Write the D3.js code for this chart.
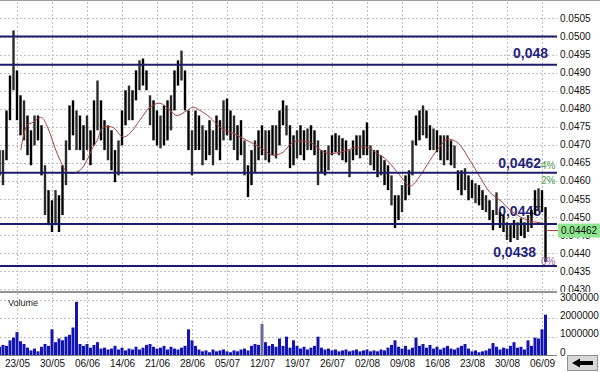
<!DOCTYPE html>
<html>
<head>
<meta charset="utf-8">
<script src="https://cdn.jsdelivr.net/npm/d3@7"></script>
<style>
  body { margin: 0; background: #fff; }
  svg { display: block; }
  text { font-family: "Liberation Sans", Arial, sans-serif; }
</style>
</head>
<body>
<div class="chart"></div>
<script>
// price bars (one bar = half a trading day)
var highs = [0.04685,0.04685,0.04795,0.04892,0.05017,0.04906,0.04837,0.04823,0.04781,0.04740,
  0.04781,0.04781,0.04754,0.04643,0.04574,0.04546,0.04574,0.04560,0.04643,0.04712,
  0.04809,0.04823,0.04795,0.04781,0.04754,0.04781,0.04740,0.04823,0.04878,0.04823,
  0.04768,0.04754,0.04740,0.04685,0.04712,0.04795,0.04851,0.04864,0.04851,0.04906,
  0.04934,0.04939,0.04906,0.04837,0.04823,0.04795,0.04781,0.04809,0.04823,0.04837,
  0.04906,0.04934,0.04961,0.04906,0.04795,0.04740,0.04795,0.04781,0.04754,0.04740,
  0.04768,0.04740,0.04781,0.04768,0.04823,0.04828,0.04795,0.04781,0.04754,0.04768,
  0.04712,0.04643,0.04685,0.04712,0.04740,0.04754,0.04740,0.04740,0.04754,0.04754,
  0.04795,0.04823,0.04809,0.04754,0.04726,0.04740,0.04754,0.04740,0.04745,0.04754,
  0.04740,0.04712,0.04685,0.04685,0.04698,0.04726,0.04732,0.04726,0.04718,0.04712,
  0.04685,0.04712,0.04726,0.04726,0.04740,0.04762,0.04698,0.04685,0.04685,0.04671,
  0.04657,0.04643,0.04615,0.04560,0.04560,0.04588,0.04615,0.04629,0.04712,0.04781,
  0.04795,0.04809,0.04795,0.04754,0.04745,0.04740,0.04726,0.04726,0.04726,0.04712,
  0.04698,0.04629,0.04629,0.04635,0.04615,0.04602,0.04593,0.04588,0.04574,0.04560,
  0.04546,0.04519,0.04568,0.04513,0.04505,0.04485,0.04477,0.04491,0.04485,0.04496,
  0.04485,0.04505,0.04519,0.04574,0.04579,0.04574,0.04527];

var lows = [0.04615,0.04588,0.04657,0.04768,0.04851,0.04768,0.04726,0.04712,0.04671,0.04643,
  0.04698,0.04712,0.04615,0.04505,0.04477,0.04458,0.04477,0.04458,0.04505,0.04588,
  0.04685,0.04726,0.04685,0.04685,0.04657,0.04685,0.04643,0.04698,0.04740,0.04712,
  0.04685,0.04657,0.04629,0.04596,0.04615,0.04698,0.04754,0.04768,0.04768,0.04823,
  0.04851,0.04864,0.04851,0.04754,0.04712,0.04698,0.04690,0.04698,0.04712,0.04740,
  0.04795,0.04864,0.04878,0.04795,0.04685,0.04615,0.04685,0.04685,0.04643,0.04657,
  0.04671,0.04643,0.04685,0.04657,0.04712,0.04726,0.04712,0.04685,0.04657,0.04671,
  0.04615,0.04555,0.04588,0.04624,0.04657,0.04671,0.04657,0.04651,0.04671,0.04662,
  0.04698,0.04754,0.04726,0.04635,0.04643,0.04662,0.04671,0.04657,0.04685,0.04685,
  0.04671,0.04588,0.04624,0.04615,0.04629,0.04671,0.04679,0.04671,0.04657,0.04651,
  0.04610,0.04657,0.04671,0.04662,0.04671,0.04671,0.04643,0.04629,0.04610,0.04615,
  0.04588,0.04574,0.04532,0.04469,0.04491,0.04513,0.04546,0.04560,0.04615,0.04698,
  0.04712,0.04726,0.04718,0.04685,0.04685,0.04679,0.04657,0.04643,0.04657,0.04643,
  0.04635,0.04574,0.04560,0.04574,0.04546,0.04552,0.04538,0.04532,0.04519,0.04513,
  0.04491,0.04463,0.04505,0.04469,0.04458,0.04436,0.04430,0.04441,0.04436,0.04447,
  0.04441,0.04458,0.04469,0.04505,0.04519,0.04513,0.04375];

var volumes = [450000,550000,500000,800000,950000,1250000,750000,600000,400000,250000,
  350000,200000,450000,600000,500000,1400000,700000,900000,800000,1000000,
  1100000,1500000,2900000,600000,500000,600000,400000,550000,700000,350000,
  400000,300000,350000,500000,300000,400000,250000,350000,300000,450000,
  300000,400000,550000,600000,450000,350000,400000,500000,300000,450000,
  350000,300000,400000,500000,1400000,800000,500000,300000,200000,250000,
  150000,300000,200000,250000,300000,200000,150000,250000,200000,300000,
  350000,250000,500000,600000,550000,1700000,700000,500000,600000,450000,
  900000,500000,1000000,400000,800000,500000,350000,450000,300000,400000,
  500000,1000000,400000,300000,350000,250000,300000,200000,250000,300000,
  200000,250000,300000,200000,250000,300000,200000,250000,200000,300000,
  250000,400000,550000,800000,450000,350000,500000,300000,400000,950000,
  500000,600000,400000,550000,350000,450000,300000,400000,500000,350000,
  300000,400000,500000,600000,350000,200000,250000,150000,200000,250000,
  350000,650000,450000,300000,400000,350000,500000,700000,400000,450000,
  300000,800000,500000,950000,900000,1400000,2200000];

// moving average, read at bar positions
var maBar = [6.1,7.9,9.6,11.6,12.4,14.4,15.9,17.3,19.3,21,23,25,26.7,27.9,29.6,32.4,35.3,37.3,40.1,43,
  45.9,48.7,50.7,53.6,55.3,57.3,60.1,63,66.7,70.7,74.4,78.1,81,83.9,88.7,90.7,93.6,97.3,101,105,
  107.9,110.7,114.4,117.3,120.1,123,125.9,127.9,130.7,134.4,137.3,140.1,143,145.9,150.7,155.3];
var maValue = [0.04685,0.04754,0.04762,0.04776,0.04773,0.04732,0.04690,0.04657,0.04624,0.04621,
  0.04629,0.04657,0.04693,0.04712,0.04748,0.04748,0.04721,0.04732,0.04768,0.04804,
  0.04815,0.04795,0.04781,0.04795,0.04804,0.04795,0.04776,0.04748,0.04732,0.04712,
  0.04693,0.04671,0.04679,0.04707,0.04707,0.04693,0.04676,0.04679,0.04690,0.04693,
  0.04676,0.04657,0.04615,0.04585,0.04613,0.04657,0.04696,0.04715,0.04707,0.04657,
  0.04610,0.04568,0.04546,0.04519,0.04491,0.04483];

var levels = [0.0500, 0.04922, 0.04622, 0.04480, 0.04364];
var levelText = ["0,048", "0,0462", "0,0445", "0,0438"];
var levelTextAt = [0.04922, 0.04622, 0.04480, 0.04364];
var pctText = ["4%", "2%", "0%"];
var pctAt = [0.04643, 0.04602, 0.04375];

var dateLabels = ["23/05","30/05","06/06","14/06","21/06","28/06","05/07","12/07",
  "19/07","26/07","02/08","09/08","16/08","23/08","30/08","06/09"];
var dateBars = d3.range(5, 156, 10);
var priceTicks = d3.range(0, 16).map(function(i) { return 0.0430 + i * 0.0005; });
var volTicks = [0, 1000000, 2000000, 3000000];
var lastPrice = 0.04462;

var width = 600, height = 372,
    plot_right = 557,
    price_top = 2, price_bottom = 291,
    vol_top = 293, vol_bottom = 355;

var x = d3.scaleLinear().domain([0, 156]).range([-0.5, 545.5]);
var y = d3.scaleLinear().domain([0.0430, 0.0500]).range([289, 36.5]);
var yv = d3.scaleLinear().domain([0, 3000000]).range([355, 300]);

var svg = d3.select(".chart").append("svg")
    .attr("width", width).attr("height", height);

var defs = svg.append("defs");
defs.append("clipPath").attr("id", "pclip")
  .append("rect").attr("x", 0).attr("y", price_top).attr("width", plot_right).attr("height", price_bottom - price_top);
defs.append("clipPath").attr("id", "aclip")
  .append("rect").attr("x", 0).attr("y", 0).attr("width", width).attr("height", 292);

// grid
var grid = svg.append("g").attr("stroke", "#bdbdbd").attr("stroke-dasharray", "2,2").attr("stroke-width", 1);
grid.selectAll(".hp").data(priceTicks).enter().append("line")
  .attr("x1", 0).attr("x2", plot_right)
  .attr("y1", function(d) { return Math.round(y(d)) + 0.5; })
  .attr("y2", function(d) { return Math.round(y(d)) + 0.5; });
grid.selectAll(".hv").data(volTicks.slice(1)).enter().append("line")
  .attr("x1", 0).attr("x2", plot_right)
  .attr("y1", function(d) { return Math.round(yv(d)) + 0.5; })
  .attr("y2", function(d) { return Math.round(yv(d)) + 0.5; });
grid.selectAll(".v1").data(dateBars).enter().append("line")
  .attr("x1", function(d) { return Math.round(x(d)) + 0.5; })
  .attr("x2", function(d) { return Math.round(x(d)) + 0.5; })
  .attr("y1", price_top).attr("y2", price_bottom);
grid.selectAll(".v2").data(dateBars).enter().append("line")
  .attr("x1", function(d) { return Math.round(x(d)) + 0.5; })
  .attr("x2", function(d) { return Math.round(x(d)) + 0.5; })
  .attr("y1", vol_top).attr("y2", vol_bottom);

// frame lines
svg.append("line").attr("x1", 0).attr("x2", width).attr("y1", 0.5).attr("y2", 0.5)
  .attr("stroke", "#a0a0a0");
svg.append("line").attr("x1", 0).attr("x2", plot_right).attr("y1", 292).attr("y2", 292)
  .attr("stroke", "#707070").attr("stroke-width", 1.5);
svg.append("line").attr("x1", 0).attr("x2", plot_right).attr("y1", vol_bottom + 0.5).attr("y2", vol_bottom + 0.5)
  .attr("stroke", "#808080");

var price = svg.append("g").attr("clip-path", "url(#pclip)");

// level labels (under the bars)
price.selectAll(".lt").data(levelText).enter().append("text")
  .attr("x", function(d, i) { return [548, 541, 541, 536][i]; })
  .attr("y", function(d, i) { return y(levelTextAt[i]) - [6.5, 4.5, 8, 8.5][i]; })
  .attr("text-anchor", "end")
  .attr("font-family", "'Liberation Mono', 'DejaVu Sans Mono', monospace")
  .attr("font-weight", "bold").attr("font-size", 14)
  .attr("fill", "#23237e")
  .text(function(d) { return d; });

// bars
price.selectAll(".bar").data(highs).enter().append("line")
  .attr("x1", function(d, i) { return x(i); })
  .attr("x2", function(d, i) { return x(i); })
  .attr("y1", function(d) { return y(d); })
  .attr("y2", function(d, i) { return y(lows[i]); })
  .attr("stroke", function(d, i) { return i % 3 == 1 ? "#2a2a2a" : "#000"; })
  .attr("stroke-width", 2.4);

// moving average
var ma_line = d3.line()
  .x(function(d) { return x(d); })
  .y(function(d, i) { return y(maValue[i]); })
  .curve(d3.curveCatmullRom);
price.append("path").datum(maBar)
  .attr("d", ma_line)
  .attr("fill", "none").attr("stroke", "#a8403a").attr("stroke-width", 1);

// horizontal levels
price.selectAll(".lvl").data(levels).enter().append("line")
  .attr("x1", 0).attr("x2", plot_right)
  .attr("y1", function(d) { return y(d); })
  .attr("y2", function(d) { return y(d); })
  .attr("stroke", "#1c1c6c").attr("stroke-width", 2);

price.selectAll(".pt").data(pctText).enter().append("text")
  .attr("x", 541)
  .attr("y", function(d, i) { return y(pctAt[i]) + 3.5; })
  .attr("font-size", 10)
  .attr("fill", function(d, i) { return i == 2 ? "#9a5aa8" : "#4f9a4f"; })
  .text(function(d) { return d; });

// last price marker
svg.append("line")
  .attr("x1", x(156)).attr("x2", 558)
  .attr("y1", y(lastPrice)).attr("y2", y(lastPrice))
  .attr("stroke", "#a8403a");

// volume bars
svg.append("g").selectAll("rect").data(volumes).enter().append("rect")
  .attr("x", function(d, i) { return x(i) - 1.5; })
  .attr("width", 3)
  .attr("y", function(d) { return yv(d); })
  .attr("height", function(d) { return yv(0) - yv(d); })
  .attr("fill", function(d, i) { return i == 75 ? "#6a6a9a" : "#1414b4"; });

svg.append("text").attr("x", 8).attr("y", 306).attr("font-size", 9).attr("fill", "#222")
  .text("Volume");

// axes
var price_axis = svg.append("g").attr("transform", "translate(557,0)")
  .attr("clip-path", "url(#aclip)")
  .call(d3.axisRight(y).tickValues(priceTicks).tickSize(0).tickPadding(3)
    .tickFormat(d3.format(".4f")));
var vol_axis = svg.append("g").attr("transform", "translate(557,0)")
  .call(d3.axisRight(yv).tickValues(volTicks).tickSize(0).tickPadding(3)
    .tickFormat(d3.format("d")));
vol_axis.selectAll("text").attr("dy", "0.02em");
var date_axis = svg.append("g").attr("transform", "translate(0," + vol_bottom + ")")
  .call(d3.axisBottom(x).tickValues(dateBars).tickSize(0).tickPadding(5)
    .tickFormat(function(d, i) { return dateLabels[i]; }));
[price_axis, vol_axis, date_axis].forEach(function(a) {
  a.select(".domain").remove();
  a.selectAll("text").attr("font-family", "'Liberation Sans', Arial, sans-serif")
    .attr("font-size", 10).attr("fill", "#111");
});

// last price box
svg.append("rect").attr("x", 558).attr("y", y(lastPrice) - 7).attr("width", 42).attr("height", 14)
  .attr("fill", "#8ee68e");
svg.append("text").attr("x", 561).attr("y", y(lastPrice) + 3.5).attr("font-size", 10).attr("fill", "#111")
  .text(d3.format(".5f")(lastPrice));

// scroll button
svg.append("rect").attr("x", 567.5).attr("y", 355.5).attr("width", 30).attr("height", 15)
  .attr("fill", "#d8d8d8").attr("stroke", "#909090");
svg.append("path")
  .attr("d", "M572,363 L580,358.5 L580,361 L593,361 L593,365 L580,365 L580,367.5 Z")
  .attr("fill", "#000");
</script>
</body>
</html>
